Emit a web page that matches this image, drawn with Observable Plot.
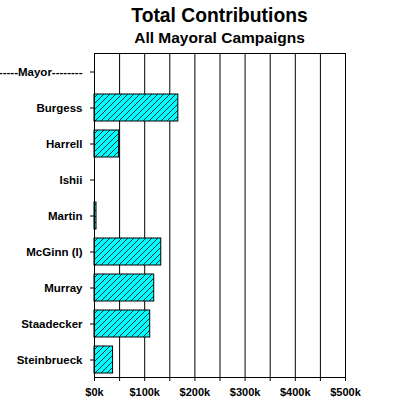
<!DOCTYPE html>
<html>
<head>
<meta charset="utf-8">
<script src="https://cdn.jsdelivr.net/npm/d3@7"></script>
<script src="https://cdn.jsdelivr.net/npm/@observablehq/plot@0.6"></script>
<style>
  html, body { margin: 0; padding: 0; background: #fff; overflow: hidden; }
  #wrap { position: relative; width: 397px; height: 397px; }
  .t { position: absolute; left: 42px; width: 355px; text-align: center; font-family: "Liberation Sans", Arial, sans-serif; font-weight: bold; color: #000; white-space: nowrap; }
  #title { top: 6.4px; font-size: 19.3px; line-height: 19.3px; }
  #subtitle { top: 29.6px; font-size: 15.5px; line-height: 15.5px; }
  #chart { position: absolute; left: 0; top: 0; }
</style>
</head>
<body>
<div id="wrap">
  <div id="chart"></div>
  <div class="t" id="title">Total Contributions</div>
  <div class="t" id="subtitle">All Mayoral Campaigns</div>
</div>
<script>
// Data (values in thousands of dollars)
const categories = ["-----Mayor--------", "Burgess", "Harrell", "Ishii", "Martin", "McGinn (I)", "Murray", "Staadecker", "Steinbrueck"];
const contributions = [null, 167, 49, 0, 4, 133, 119, 111, 37];
const xTicks = [0, 50, 100, 150, 200, 250, 300, 350, 400, 450, 500];
const xLabelEvery = 100;

const rows = categories.map((name, i) => ({name, value: contributions[i]}))
  .filter(d => d.value != null && d.value > 0);

const hatchDefs = () => {
  const defs = d3.create("svg:defs");
  const p = defs.append("pattern")
    .attr("id", "hatch")
    .attr("patternUnits", "userSpaceOnUse")
    .attr("width", 6).attr("height", 6);
  p.append("rect").attr("width", 6).attr("height", 6).attr("fill", "#00ffff");
  p.append("path")
    .attr("d", "M0,6L6,0M-1,1L1,-1M5,7L7,5")
    .attr("stroke", "#000").attr("stroke-width", 0.8);
  return defs.node();
};

const chart = Plot.plot({
  width: 397,
  height: 397,
  marginTop: 53,
  marginBottom: 20,
  marginLeft: 94,
  marginRight: 52,
  style: {fontFamily: "'Liberation Sans', Arial, sans-serif", fontSize: "11.5px", fontWeight: "bold", color: "#000", background: "#fff"},
  x: {domain: [0, 500]},
  y: {domain: categories, paddingInner: 0.25, paddingOuter: 0.125},
  marks: [
    hatchDefs,
    Plot.ruleX(xTicks, {stroke: "#000", strokeWidth: 1}),
    Plot.barX(rows, {x: "value", y: "name", fill: "url(#hatch)", stroke: "#000", strokeWidth: 1}),
    Plot.frame({stroke: "#000", strokeWidth: 1}),
    Plot.axisX({ticks: xTicks, tickSize: 4, tickPadding: 7, label: null, fontSize: 11,
      tickFormat: d => d % xLabelEvery === 0 ? `$${d}k` : ""}),
    Plot.axisY({tickSize: 4, tickPadding: 8, label: null})
  ]
});
document.getElementById("chart").appendChild(chart);
</script>
</body>
</html>
